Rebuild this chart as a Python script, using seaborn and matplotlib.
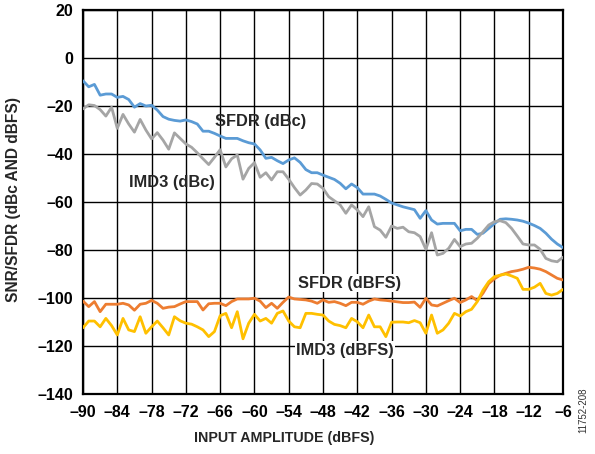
import numpy as np
import pandas as pd
import matplotlib
matplotlib.use("Agg")
import matplotlib.pyplot as plt
import seaborn as sns

x_dbfs = list(range(-90, -5))

sfdr_dbc = [-9.5, -12, -11, -15.5, -15, -15, -16.4, -16, -17.3, -20.5,
            -19, -20, -19.7, -21.7, -24.4, -25.5, -26, -26.3, -25.8, -26.5,
            -27.5, -30.5, -30.5, -31.4, -32.5, -33.5, -33.5, -33.5, -34.5, -35.3,
            -35.8, -38.3, -41.8, -41.4, -42.8, -44, -42.5, -41.6, -43.5, -46.5,
            -47.8, -47.8, -48.8, -49.7, -50.6, -52.2, -54.5, -52.5, -54, -56.7,
            -56.7, -56.7, -57.5, -58.9, -60.4, -61.2, -62, -62.6, -63.2, -66.8,
            -63.6, -67.5, -69.2, -68.9, -68.9, -68.9, -72, -71.4, -71.4, -73.5,
            -73, -71, -69, -67.2, -67, -67.2, -67.5, -68, -68.8, -69.8,
            -71, -73, -75.5, -77.5, -79]

imd3_dbc = [-21.2, -19.5, -19.8, -21.5, -24.2, -20.5, -29.3, -23.5, -27.5, -30.9,
            -25.6, -30, -33.7, -31.1, -34.2, -38, -31.2, -33.5, -35.8, -37.2,
            -39.5, -42, -44.4, -41.4, -38.2, -45.4, -42, -40.4, -50.5, -46,
            -43.6, -49.7, -47.8, -50.8, -47.4, -47.4, -50.5, -54, -57.1, -55,
            -52.3, -52.5, -54.3, -57.8, -59.5, -61.2, -64.7, -61.2, -63.3, -66.1,
            -62, -70.3, -71.7, -74.7, -70, -71, -70.5, -72.4, -72.8, -74.4,
            -79.7, -72.8, -82.1, -81.4, -79.3, -75.6, -78.6, -77.5, -77.2, -75.1,
            -72.4, -69.6, -68.2, -67.8, -68.6, -71, -74.2, -77.5, -77.9, -77.9,
            -79.7, -83.5, -84.5, -84.9, -83]

sfdr_dbfs = [-101.3, -103.6, -101.5, -105.7, -102.6, -102.6, -102.6, -102.2, -102.9, -105.1,
             -102.6, -102.2, -101, -102.2, -104.3, -103.8, -103.6, -102.5, -101.5, -101.5,
             -101.5, -105, -102.4, -102.2, -102.2, -103.2, -101.5, -100.4, -100.4, -100.4,
             -100.1, -101.3, -104, -102.2, -104.3, -101.8, -99.6, -100.4, -100.6, -100.8,
             -101.3, -102.2, -100.8, -101.8, -101.5, -102.2, -103.2, -101.8, -101.8, -102.6,
             -101.3, -100.4, -100.8, -101, -101.3, -101.6, -101.9, -101.9, -101.7, -103.9,
             -100.1, -102.9, -103.3, -102.2, -101.1, -100.1, -101.9, -100.8, -99.4, -101.1,
             -98, -94, -92, -90.5, -89.7, -89, -88.6, -88, -87.2, -87.5,
             -88, -89, -90.4, -91.8, -92.5]

imd3_dbfs = [-112.4, -109.6, -109.6, -112, -108.5, -111.5, -115.4, -108.5, -113.3, -114,
             -107.8, -114.7, -112, -109.6, -112.4, -115.4, -107.8, -109.5, -110.5, -110.9,
             -112, -113.3, -116.1, -114, -107.4, -106.4, -112.4, -105.7, -117, -110.5,
             -106.8, -109.6, -108.5, -110.5, -106.4, -105.4, -109.6, -112, -112.4, -106.4,
             -106.4, -106.8, -107.1, -109.6, -111, -111.5, -112.4, -108.5, -109.9, -112.4,
             -107.1, -112, -112, -116.1, -110.1, -110, -110, -110.3, -109.4, -110.3,
             -114.7, -107.1, -114.7, -113.3, -110.5, -106.4, -107.5, -105.7, -104.7, -101.5,
             -96.7, -93.2, -91.1, -90.5, -90, -90.8, -91.8, -96.4, -96.4, -95.5,
             -93.9, -98.1, -98.8, -98.1, -96.4]

series_names = ["SFDR (dBc)", "IMD3 (dBc)", "SFDR (dBFS)", "IMD3 (dBFS)"]
series_colors = ["#5B9BD5", "#A5A5A5", "#ED7D31", "#FFC000"]
x_ticks = list(range(-90, -5, 6))
y_ticks = list(range(-140, 21, 20))

sns.set_theme(style="white")
plt.rcParams["font.family"] = ["Liberation Sans", "DejaVu Sans"]
plt.rcParams["font.weight"] = "bold"

fig = plt.figure(figsize=(5.95, 4.54), dpi=100)
ax = fig.add_axes([83 / 595, 1 - 394 / 454, 480 / 595, 384 / 454])

frames = []
for name, vals in zip(series_names, [sfdr_dbc, imd3_dbc, sfdr_dbfs, imd3_dbfs]):
    frames.append(pd.DataFrame({"x": x_dbfs, "y": vals, "s": name}))
df = pd.concat(frames, ignore_index=True)

sns.lineplot(data=df, x="x", y="y", hue="s", palette=dict(zip(series_names, series_colors)),
             linewidth=2.0, legend=False, ax=ax, zorder=3)

ax.set_xlim(-90, -6)
ax.set_ylim(-140, 20)
ax.set_xticks(x_ticks)
ax.set_yticks(y_ticks)
ax.set_xticklabels([str(v).replace("-", "\u2013") for v in x_ticks], fontsize=11.5, fontweight="bold")
ax.set_yticklabels([str(v).replace("-", "\u2013") for v in y_ticks], fontsize=11.5, fontweight="bold")
ax.tick_params(axis="x", length=0, pad=8, colors="black")
ax.tick_params(axis="y", length=0, pad=7, colors="black")
ax.grid(True, color="black", linewidth=1.0, zorder=0)
ax.set_axisbelow(True)
for sp in ax.spines.values():
    sp.set_color("black")
    sp.set_linewidth(1.6)

ax.set_xlabel("INPUT AMPLITUDE (dBFS)", fontsize=10.3, fontweight="bold")
ax.xaxis.set_label_coords((284 - 83) / 480, -(431 - 394) / 384)
ax.set_ylabel("SNR/SFDR (dBc AND dBFS)", fontsize=11.2, fontweight="bold")
ax.yaxis.set_label_coords(-(83 - 21) / 480, (394 - 200) / 384)

bbox = dict(facecolor="white", edgecolor="none", pad=1.0)
ax.text(-58.9, -26.3, "SFDR (dBc)", fontsize=11.8, fontweight="bold", ha="center", va="center", zorder=5)
ax.text(-74.4, -51.7, "IMD3 (dBc)", fontsize=11.8, fontweight="bold", ha="center", va="center", zorder=5)
ax.text(-43.3, -93.8, "SFDR (dBFS)", fontsize=11.8, fontweight="bold", ha="center", va="center", zorder=5, bbox=bbox)
ax.text(-44.1, -121.7, "IMD3 (dBFS)", fontsize=11.8, fontweight="bold", ha="center", va="center", zorder=5, bbox=bbox)

fig.text(583 / 595, 1 - 410 / 454, "11752-208", rotation=90, fontsize=7, fontweight="normal",
         color="#333333", ha="center", va="center")

fig.savefig("out.png", dpi=100)
